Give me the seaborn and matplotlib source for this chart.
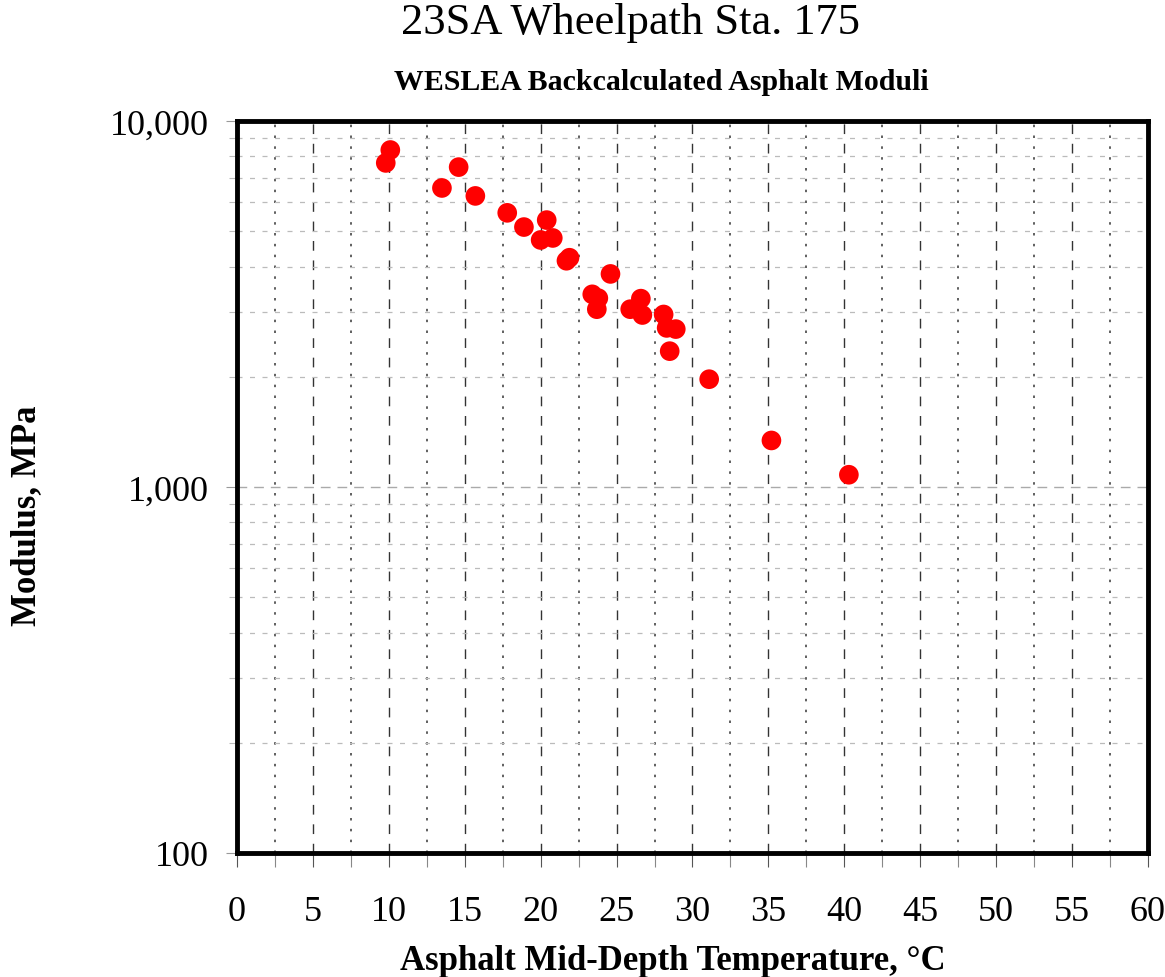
import matplotlib
matplotlib.use("Agg")
import matplotlib.pyplot as plt
import matplotlib.ticker as mticker
import pandas as pd
import seaborn as sns

# Temperature (°C) and backcalculated modulus (MPa)
temperature = [9.8, 10.1, 13.5, 14.6, 15.7, 17.8, 18.9, 20.0, 20.4, 20.8,
               21.7, 21.9, 23.4, 23.8, 23.7, 24.6, 25.9, 26.6, 26.7, 28.1,
               28.3, 28.9, 28.5, 31.1, 35.2, 40.3]
modulus = [7680, 8330, 6560, 7480, 6240, 5610, 5130, 4730, 5360, 4790,
           4150, 4230, 3360, 3280, 3060, 3820, 3060, 3270, 2950, 2960,
           2720, 2700, 2350, 1970, 1340, 1080]

title = "23SA Wheelpath Sta. 175"
subtitle = "WESLEA Backcalculated Asphalt Moduli"
x_label = "Asphalt Mid-Depth Temperature, °C"
y_label = "Modulus, MPa"

sns.set_style("white")
plt.rcParams['font.family'] = ['Liberation Serif', 'DejaVu Serif']
plt.rcParams['text.color'] = 'black'
plt.rcParams['axes.labelcolor'] = 'black'
plt.rcParams['xtick.labelcolor'] = 'black'
plt.rcParams['ytick.labelcolor'] = 'black'

df = pd.DataFrame({'Temperature': temperature, 'Modulus': modulus})

fig = plt.figure(figsize=(11.65, 9.78), dpi=100)
ax = fig.add_axes([0.2034, 0.1268, 0.7820, 0.7485])

sns.scatterplot(data=df, x='Temperature', y='Modulus', ax=ax,
                color='#ff0000', s=200, edgecolor='none', zorder=5)

ax.set_yscale('log')
ax.set_xlim(0, 60)
ax.set_ylim(100, 10000)

ax.xaxis.set_major_locator(mticker.MultipleLocator(5))
ax.xaxis.set_minor_locator(mticker.MultipleLocator(2.5))
ax.yaxis.set_major_locator(mticker.LogLocator(base=10))
ax.yaxis.set_minor_locator(mticker.LogLocator(base=10, subs=range(2, 10)))
ax.yaxis.set_major_formatter(mticker.FuncFormatter(lambda v, p: f"{v:,.0f}"))
ax.yaxis.set_minor_formatter(mticker.NullFormatter())

# Grid
ax.grid(which='major', axis='x', color='#333333', linestyle=(0, (7, 7)), linewidth=1.0)
ax.grid(which='minor', axis='x', color='#444444', linestyle=(0, (1.5, 5)), linewidth=1.2)
ax.grid(which='major', axis='y', color='#aaaaaa', linestyle=(0, (7, 5)), linewidth=1.0)
ax.grid(which='minor', axis='y', color='#bbbbbb', linestyle=(0, (4, 6)), linewidth=0.9)

for side in ['top', 'bottom', 'left', 'right']:
    ax.spines[side].set_visible(True)
    ax.spines[side].set_color('black')
    ax.spines[side].set_linewidth(3.5)
    ax.spines[side].set_zorder(6)

ax.tick_params(axis='x', which='major', direction='out', length=10, width=0.8,
               color='#555555', labelsize=26, pad=20, bottom=True)
ax.tick_params(axis='x', which='minor', direction='out', length=10, width=0.8,
               color='#888888', bottom=True)
ax.tick_params(axis='y', which='major', direction='out', length=8, width=0.8,
               color='#999999', labelsize=26, pad=12, left=True)
ax.tick_params(axis='y', which='minor', direction='out', length=6, width=0.8,
               color='#bbbbbb', left=True)

ax.set_xlabel(x_label, fontsize=25, fontweight='bold', labelpad=12)
ax.set_ylabel(y_label, fontsize=25, fontweight='bold', labelpad=48)
ax.xaxis.label.set_x(0.4786)
ax.yaxis.label.set_y(0.462)

fig.text(0.541, 0.976, title, ha='center', va='center', fontsize=32)
fig.text(0.568, 0.916, subtitle, ha='center', va='center', fontsize=21.5,
         fontweight='bold')

fig.savefig('out.png', dpi=100)
plt.close(fig)
